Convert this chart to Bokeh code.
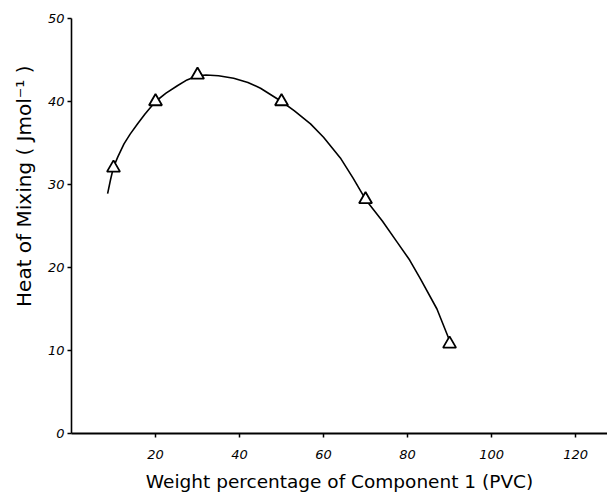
from bokeh.plotting import figure
from bokeh.models import Range1d, FixedTicker, Title
from bokeh.embed import file_html
from bokeh.resources import INLINE

# measured data points (weight % of PVC, heat of mixing)
pts_x = [10, 20, 30, 50, 70, 90]
pts_y = [32, 40, 43.2, 40, 28.2, 10.8]

# hand-drawn smooth curve
curve_x = [8.6, 9.3, 10, 11.0, 12.5, 14, 15.7, 17.5, 20, 22.5, 25.2, 27.5, 30, 32, 35, 38.6, 42, 45, 50,
           53, 56.9, 60, 64, 67, 70, 74, 77.6, 80.5, 83.1, 87, 90]
curve_y = [28.9, 30.6, 32.1, 33.3, 34.9, 36.1, 37.3, 38.5, 40, 41.0, 41.9, 42.6, 43.1, 43.2, 43.1, 42.8, 42.3, 41.6, 40,
           38.9, 37.3, 35.7, 33.2, 30.8, 28.2, 25.6, 23.0, 20.9, 18.6, 15.0, 11.2]

x_ticks = [20, 40, 60, 80, 100, 120]
y_ticks = [0, 10, 20, 30, 40, 50]

FONT = "DejaVu Sans"

p = figure(width=607, height=499, output_backend="svg", toolbar_location=None,
           x_range=Range1d(0, 127.6), y_range=Range1d(0, 50),
           min_border_left=71, min_border_right=0, min_border_top=18, min_border_bottom=66)
p.outline_line_color = None
p.xgrid.visible = False
p.ygrid.visible = False
p.background_fill_color = "white"

p.line(curve_x, curve_y, line_color="black", line_width=1.6)
p.scatter(pts_x, pts_y, marker="triangle", size=13, fill_color="white",
          line_color="black", line_width=1.8)

xa = p.xaxis[0]
xa.ticker = FixedTicker(ticks=x_ticks)
xa.axis_line_width = 2
xa.major_tick_in = 0
xa.major_tick_out = 4
xa.major_tick_line_width = 1.5
xa.minor_tick_line_color = None
xa.major_label_text_font = FONT
xa.major_label_text_font_style = "italic"
xa.major_label_text_font_size = "13px"
xa.major_label_text_color = "black"
xa.major_label_standoff = 12
xa.axis_label = "Weight percentage of Component 1 (PVC)"
xa.axis_label_text_font = FONT
xa.axis_label_text_font_style = "normal"
xa.axis_label_text_font_size = "18.5px"
xa.axis_label_text_color = "black"
xa.axis_label_standoff = 9

ya = p.yaxis[0]
ya.ticker = FixedTicker(ticks=y_ticks)
ya.axis_line_width = 1.6
ya.major_tick_in = 0
ya.major_tick_out = 4
ya.major_tick_line_width = 1.5
ya.minor_tick_line_color = None
ya.major_label_text_font = FONT
ya.major_label_text_font_style = "italic"
ya.major_label_text_font_size = "13px"
ya.major_label_text_color = "black"
ya.major_label_standoff = 3

ytitle = Title(text="Heat of Mixing ( Jmol\u207b\u00b9 )", align="right", offset=47,
               standoff=17, text_font=FONT, text_font_size="20px",
               text_font_style="normal", text_color="black")
p.add_layout(ytitle, "left")

open("out.html", "w").write(file_html(p, INLINE))
